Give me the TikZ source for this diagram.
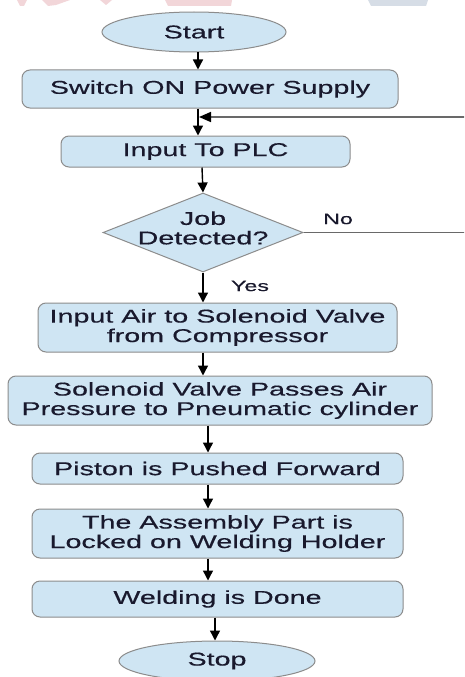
\documentclass[tikz,border=0pt]{standalone}
\usepackage{fontspec}
\setmainfont{Liberation Sans}[FakeStretch=1.55,FakeBold=0.4]
\usetikzlibrary{shapes.geometric,arrows.meta}
\definecolor{boxfill}{RGB}{207,229,243}
\definecolor{boxline}{RGB}{140,140,140}
\definecolor{txt}{RGB}{25,25,45}
\definecolor{fbline}{RGB}{105,105,105}
\definecolor{wmpink}{RGB}{242,214,217}
\definecolor{wmblue}{RGB}{214,221,230}
\begin{document}
\begin{tikzpicture}[x=1pt,y=-1pt,
  lbl/.style={font=\fontsize{18.5}{19.5}\selectfont, text=txt, align=center},
  box/.style={lbl, rectangle, rounded corners=8pt, draw=boxline, fill=boxfill, line width=1pt, inner sep=0pt},
  term/.style={lbl, ellipse, draw=boxline, fill=boxfill, line width=1pt, inner sep=0pt},
  dia/.style={diamond, draw=boxline, fill=boxfill, line width=1pt, inner sep=0pt},
  small/.style={font=\fontsize{15}{16}\selectfont, text=txt},
  arr/.style={draw=black, line width=1.4pt, -{Triangle[width=10pt,length=10pt]}},
  fb/.style={draw=fbline, line width=1.6pt},
  fbarr/.style={draw=fbline, line width=1.6pt, -{Triangle[width=10pt,length=12pt,color=black]}}
]
\useasboundingbox (0,0) rectangle (464,677);
\clip (0,0) rectangle (464,677);
\fill[white] (0,0) rectangle (464,677);
% faint watermark at the top edge
\fill[wmpink] (17,0) -- (27,0) -- (24,6) -- (20,6) -- cycle;
\fill[wmpink] (42,0) -- (70,0) -- (56,5) -- (48,6) -- cycle;
\fill[wmpink] (100,0) -- (112,0) -- (106,5) -- cycle;
\fill[wmpink] (165,0) -- (232,0) -- (231,6) -- (168,6) -- cycle;
\fill[wmblue] (368,0) -- (428,0) -- (426,6) -- (371,6) -- cycle;

% nodes
\node[term, minimum width=184pt, minimum height=40pt] (start) at (194,32) {Start};
\node[box, minimum width=376pt, minimum height=38pt] (switch) at (210,89) {Switch ON Power Supply};
\node[box, minimum width=289pt, minimum height=31pt] (plc) at (205.5,151.5) {Input To PLC};
\node[dia, minimum width=200pt, minimum height=79pt] (dec) at (203,232.5) {};
\node[lbl] (dectxt) at (203,228) {Job\\Detected?};
\node[box, minimum width=359pt, minimum height=49pt] (air) at (217.5,327.5) {Input Air to Solenoid Valve\\from Compressor};
\node[box, minimum width=424pt, minimum height=49pt] (sol) at (220,400.5) {Solenoid Valve Passes Air\\Pressure to Pneumatic cylinder};
\node[box, minimum width=371pt, minimum height=31pt] (piston) at (217.5,468.5) {Piston is Pushed Forward};
\node[box, minimum width=371pt, minimum height=49pt] (asm) at (217.5,533.5) {The Assembly Part is\\Locked on Welding Holder};
\node[box, minimum width=371pt, minimum height=36pt] (weld) at (217.5,599) {Welding is Done};
\node[term, minimum width=196pt, minimum height=40pt] (stop) at (217,661) {Stop};

\node[small] (no) at (338,219) {No};
\node[small] (yes) at (250,286) {Yes};

% x positions of the vertical connectors
\coordinate (xa) at (198,0);
\coordinate (xb) at (202,0);
\coordinate (xc) at (203,0);
\coordinate (xd) at (208,0);
\coordinate (xe) at (215,0);
\coordinate (jn) at (199,117);
\coordinate (fbR) at (480,117);

% connectors
\draw[arr] (start.south -| xa) -- (switch.north -| xa);
\draw[arr] (switch.south -| xa) -- (plc.north -| xa);
\draw[arr] (plc.south -| xb) -- (dec.north);
\draw[arr] (dec.south) -- (air.north -| xc);
\draw[arr] (air.south -| xc) -- (sol.north -| xc);
\draw[arr] (sol.south -| xd) -- (piston.north -| xd);
\draw[arr] (piston.south -| xd) -- (asm.north -| xd);
\draw[arr] (asm.south -| xd) -- (weld.north -| xd);
\draw[arr] (weld.south -| xe) -- (stop.north -| xe);
\draw[fb] (dec.east) -| (fbR);
\draw[fbarr] (fbR) -- (jn);
\end{tikzpicture}
\end{document}
